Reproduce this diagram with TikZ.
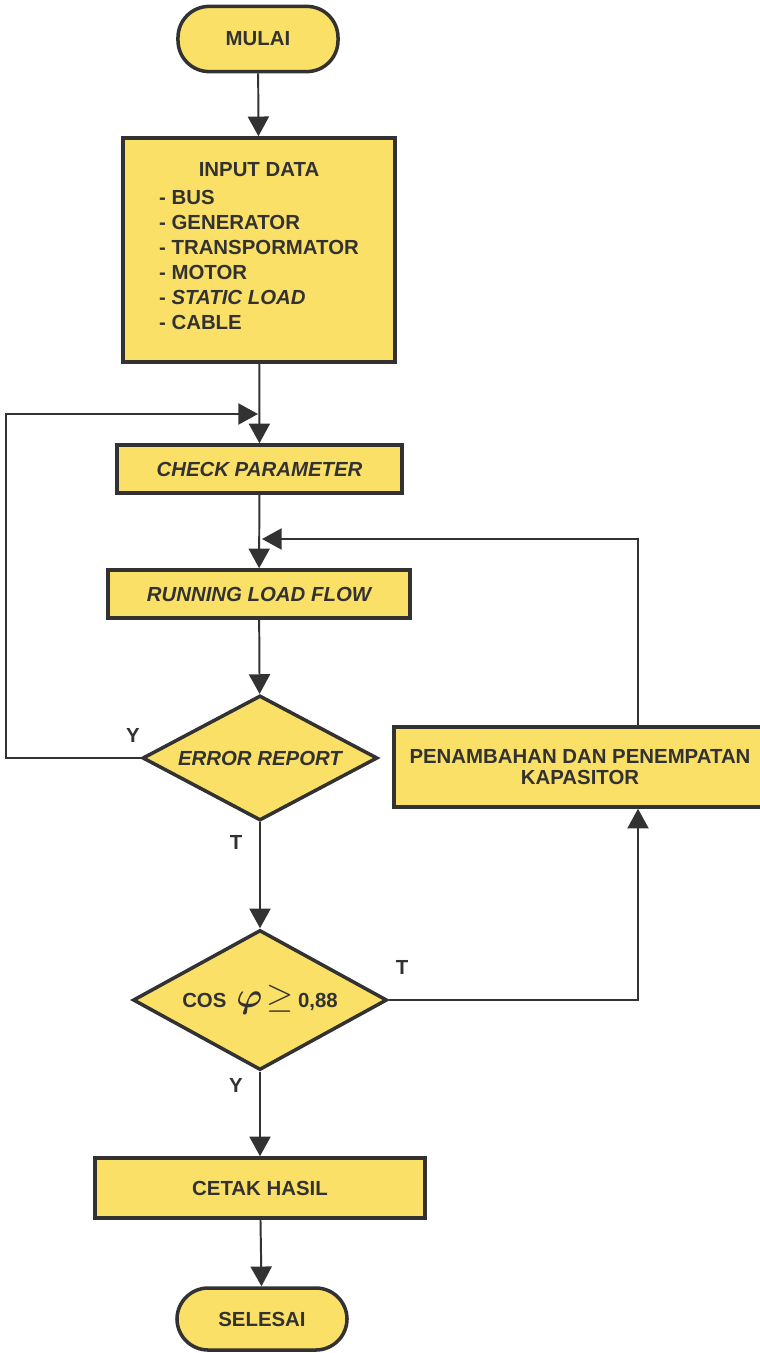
\documentclass[tikz,border=0pt]{standalone}
\usepackage{amsmath,amssymb}
\usepackage{fontspec}
\setmainfont{Liberation Sans}
\usepackage{tikz}
\usetikzlibrary{positioning,arrows.meta,shapes.geometric}
\definecolor{kuning}{RGB}{250,224,102}
\definecolor{garis}{RGB}{50,50,50}

\begin{document}
\begin{tikzpicture}[x=0.025cm, y=-0.025cm,
    font=\fontsize{14.5}{17.8}\selectfont\bfseries, text=garis,
    term/.style={draw=garis, line width=2.5pt, fill=kuning, rounded corners=0.78cm, inner sep=0pt},
    proc/.style={draw=garis, line width=2.5pt, fill=kuning, inner sep=0pt, align=center},
    dec/.style={diamond, aspect=2, draw=garis, line width=2.5pt, fill=kuning, inner sep=0pt},
    arr/.style={-{Triangle[length=14pt,width=15pt]}, line width=1.4pt, draw=garis}]
  \useasboundingbox (0,0) rectangle (759,1353);
  % Blocks
  \node[term, minimum width=4cm, minimum height=1.63cm] (mulai) at (258,39) {MULAI};
  \node[proc, minimum width=6.8cm, minimum height=5.6cm] (input) at (259,250)
    {INPUT DATA\\[2pt]
     \begin{tabular}[t]{@{}l@{}}
       - BUS\\ - GENERATOR\\ - TRANSPORMATOR\\ - MOTOR\\ - \textit{STATIC LOAD}\\ - CABLE
     \end{tabular}};
  \node[proc, minimum width=7.125cm, minimum height=1.2cm] (cek) at (259.5,469) {\itshape CHECK PARAMETER};
  \node[proc, minimum width=7.55cm, minimum height=1.2cm] (run) at (259,594) {\itshape RUNNING LOAD FLOW};
  \node[dec, minimum width=5.875cm, minimum height=3.125cm] (err) at (260,758) {\itshape ERROR REPORT};
  \node[proc, minimum width=9.3cm, minimum height=2cm, font=\fontsize{14.5}{15}\selectfont\bfseries]
    (kap) at (580,767) {PENAMBAHAN DAN PENEMPATAN\\KAPASITOR};
  \node[dec, minimum width=6.35cm, minimum height=3.5cm] (cos) at (260,1000)
    {COS\hspace{7pt}{\fontsize{30}{30}\selectfont$\boldsymbol{\varphi}$}\hspace{3pt}{\fontsize{23}{23}\selectfont$\geq$}\hspace{3pt}0,88};
  \node[proc, minimum width=8.25cm, minimum height=1.5cm] (cetak) at (260,1188) {CETAK HASIL};
  \node[term, minimum width=4.25cm, minimum height=1.55cm] (selesai) at (262,1319) {SELESAI};
  % Labels
  \node (ly1) at (133,735) {Y};
  \node (lt1) at (236,842) {T};
  \node (lt2) at (402,967) {T};
  \node (ly2) at (236,1085) {Y};
  % Joints
  \coordinate (jn1) at (258,414);
  \coordinate (lp) at (6,414);
  \coordinate (jn2) at (262,539);
  \coordinate (kx) at (638,0);
  % Flow
  \draw[arr] (mulai) -- (input);
  \draw[arr] (input) -- (cek);
  \draw[arr] (err.west) -| (lp) -- (jn1);
  \draw[arr] (cek) -- (run);
  \draw[arr] (kap.north -| kx) |- (jn2);
  \draw[arr] (run) -- (err);
  \draw[arr] (err) -- (cos);
  \draw[arr] (cos.east) -| (kap.south -| kx);
  \draw[arr] (cos) -- (cetak);
  \draw[arr] (cetak) -- (selesai);
\end{tikzpicture}
\end{document}
